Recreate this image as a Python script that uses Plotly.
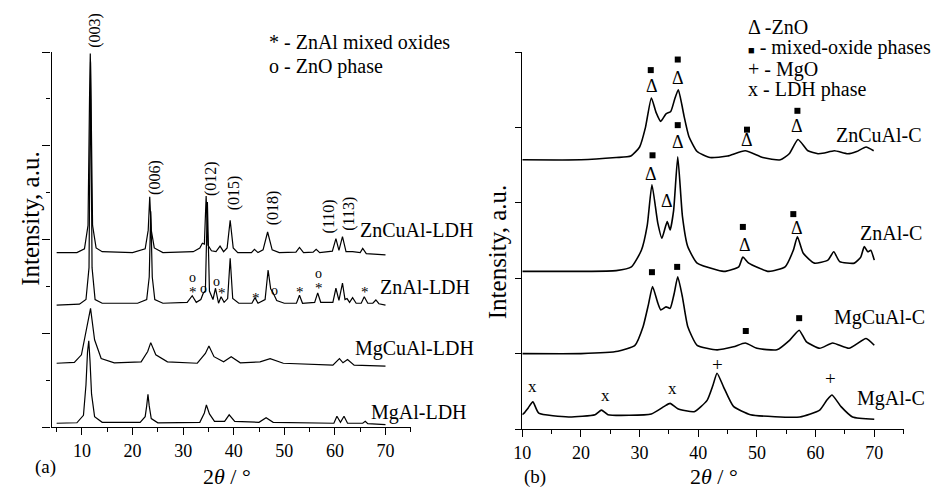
import plotly.graph_objects as go

W, H = 933, 490
FONT = "Liberation Serif"

# ---------------- Panel (a): LDH patterns (2theta, intensity offset units) ----------------
a_ZnCuAl_x = [5, 9, 10.5, 11.2, 11.5, 11.65, 11.8, 12.1, 12.8, 14, 20, 22.5, 23.1, 23.4, 23.7, 24.3, 26,
              32, 33.3, 33.8, 34.2, 34.55, 34.9, 35.6, 36.5, 37.3, 38.0, 38.7, 39.3, 39.9, 40.8, 43.5,
              44.1, 44.8, 45.8, 46.7, 47.6, 49, 52.3, 53.0, 53.8, 55.7, 56.3, 57, 59.5, 60.2, 60.8,
              61.5, 62.2, 63.5, 65.0, 65.5, 66.2, 70]
a_ZnCuAl_y = [3.72, 3.72, 3.80, 4.30, 7.00, 7.97, 7.00, 4.30, 3.82, 3.74, 3.72, 3.80, 4.20, 4.91, 4.20, 3.82, 3.72,
              3.74, 3.82, 3.92, 3.90, 4.93, 3.88, 3.76, 3.74, 3.86, 3.74, 3.82, 4.41, 3.82, 3.72, 3.72,
              3.79, 3.72, 3.78, 4.16, 3.78, 3.72, 3.73, 3.83, 3.72, 3.73, 3.79, 3.72, 3.75, 4.02, 3.77,
              4.06, 3.74, 3.74, 3.72, 3.81, 3.70, 3.67]

a_ZnAl_x = [5, 9.5, 10.8, 11.4, 11.7, 12.0, 12.6, 14, 21, 22.8, 23.3, 23.6, 23.9, 24.4, 26,
            30.8, 31.8, 32.6, 33.5, 34.0, 34.4, 34.8, 35.2, 35.9, 36.4, 37.0, 37.5, 38.1, 38.8, 39.3, 39.8,
            41, 43.6, 44.2, 44.8, 46.2, 46.8, 47.3, 47.8, 48.5, 50, 52.4, 53.0, 53.6, 56.0, 56.6, 57.2,
            59.6, 60.2, 60.8, 61.5, 62.0, 62.4, 62.9, 63.5, 64.2, 65.2, 65.8, 66.5, 67.5, 68.1, 68.7, 70]
a_ZnAl_y = [2.60, 2.62, 2.72, 3.40, 7.80, 3.40, 2.72, 2.64, 2.64, 2.72, 3.20, 4.60, 3.20, 2.72, 2.64,
            2.66, 2.80, 2.66, 2.72, 2.86, 2.90, 4.80, 2.90, 2.72, 2.96, 2.64, 2.78, 2.66, 2.74, 3.60, 2.74,
            2.64, 2.64, 2.76, 2.64, 2.72, 3.35, 2.95, 2.86, 2.70, 2.64, 2.64, 2.81, 2.64, 2.66, 2.86, 2.66,
            2.66, 2.96, 2.70, 3.07, 2.72, 2.74, 2.66, 2.76, 2.64, 2.64, 2.78, 2.64, 2.64, 2.71, 2.63, 2.60]

a_MgCuAl_x = [5, 8.5, 9.9, 10.9, 11.7, 12.5, 13.8, 16.4, 21.7, 23.0, 23.6, 24.6, 26.9, 32.8, 34.4, 35.1,
              36.1, 38.0, 39.5, 41.3, 45.2, 47.2, 49.8, 59.6, 60.9, 61.6, 62.5, 63.8, 70]
a_MgCuAl_y = [1.36, 1.38, 1.54, 2.07, 2.53, 1.86, 1.46, 1.37, 1.39, 1.61, 1.80, 1.54, 1.39, 1.36, 1.57, 1.73,
              1.50, 1.39, 1.50, 1.37, 1.39, 1.46, 1.36, 1.32, 1.46, 1.37, 1.44, 1.32, 1.30]

a_MgAl_x = [5, 9.0, 10.3, 10.8, 11.1, 11.35, 11.6, 11.9, 12.5, 14, 21.5, 22.5, 22.8, 23.05, 23.3, 23.7, 25,
            33.3, 34.2, 34.6, 35.2, 36.2, 38.2, 39.1, 40.2, 45.0, 46.4, 47.8, 59.8, 60.4, 61.1, 61.8, 62.5,
            65.5, 66.0, 66.5, 70]
a_MgAl_y = [0.08, 0.09, 0.25, 0.90, 1.60, 1.84, 1.40, 0.70, 0.22, 0.10, 0.10, 0.22, 0.45, 0.70, 0.45, 0.18, 0.09,
            0.10, 0.30, 0.47, 0.28, 0.12, 0.12, 0.26, 0.12, 0.10, 0.20, 0.10, 0.08, 0.23, 0.10, 0.23, 0.08,
            0.08, 0.12, 0.07, 0.05]

# ---------------- Panel (b): calcined samples ----------------
b_ZnCuAl_x = [10, 20, 26, 28.5, 30, 31, 32.0, 32.8, 33.6, 34.5, 35.3, 36.0, 36.6, 37.2, 37.6, 38.4, 39.8,
              42, 45, 48, 51, 54, 55.5, 57.0, 58.7, 60.4, 61.5, 63.2, 65.5, 67, 68.6, 69.9]
b_ZnCuAl_y = [3.57, 3.57, 3.60, 3.62, 3.74, 4.00, 4.39, 4.20, 4.08, 4.18, 4.21, 4.38, 4.50, 4.30, 4.14, 3.88, 3.68,
              3.60, 3.62, 3.69, 3.60, 3.57, 3.65, 3.84, 3.69, 3.65, 3.66, 3.69, 3.65, 3.68, 3.74, 3.69]

b_ZnAl_x = [10, 20, 26, 28.6, 30.3, 31.3, 32.1, 33.1, 33.8, 34.7, 35.2, 35.8, 36.5, 37.3, 38.2, 39.8, 43.2,
            44.6, 46.9, 47.6, 48.6, 52.0, 54.8, 56.2, 56.9, 57.9, 59.8, 62.1, 63.1, 64.1, 66.6, 67.7, 68.3,
            68.9, 69.4, 70.0]
b_ZnAl_y = [2.09, 2.09, 2.10, 2.15, 2.37, 2.70, 3.24, 2.73, 2.53, 2.75, 2.64, 2.90, 3.61, 2.82, 2.42, 2.20, 2.11,
            2.09, 2.15, 2.28, 2.20, 2.09, 2.15, 2.37, 2.55, 2.33, 2.20, 2.24, 2.35, 2.22, 2.20, 2.28, 2.42,
            2.35, 2.37, 2.24]

b_MgCuAl_x = [10, 20, 26.3, 29.2, 30.6, 31.5, 32.2, 33.1, 33.6, 34.5, 35.2, 35.9, 36.5, 37.3, 38.2, 39.8, 43.2,
              46.0, 48.0, 50.0, 53.4, 55.6, 57.2, 58.4, 60.7, 62.9, 65.7, 68.6, 70.0]
b_MgCuAl_y = [1.00, 1.00, 1.03, 1.11, 1.36, 1.65, 1.89, 1.67, 1.58, 1.62, 1.60, 1.80, 2.02, 1.75, 1.36, 1.11, 1.05,
              1.09, 1.14, 1.07, 1.05, 1.18, 1.31, 1.16, 1.07, 1.14, 1.07, 1.20, 1.11]

b_MgAl_x = [10, 10.3, 11.0, 11.8, 12.8, 17.9, 22.4, 23.5, 24.6, 32.0, 34.2, 35.2, 36.5, 39.3, 41.5, 42.5,
            43.2, 44.3, 46.0, 48.9, 57.3, 60.7, 61.9, 62.8, 64.3, 66.3, 70.0]
b_MgAl_y = [0.19, 0.21, 0.28, 0.36, 0.21, 0.16, 0.19, 0.25, 0.19, 0.20, 0.30, 0.34, 0.27, 0.23, 0.38, 0.58,
            0.74, 0.56, 0.30, 0.19, 0.16, 0.25, 0.38, 0.45, 0.30, 0.16, 0.13]

# ---------------- annotations data ----------------
hkl_text = ["(003)", "(006)", "(012)", "(015)", "(018)", "(110)", "(113)"]
hkl_x = [12.65, 24.3, 35.5, 40.0, 47.8, 58.9, 62.8]
hkl_y = [8.46, 5.32, 5.31, 5.00, 4.67, 4.50, 4.55]

a_circ_x = [31.9, 34.1, 36.5, 48.0, 56.8]
a_circ_y = [3.18, 2.96, 3.11, 2.92, 3.28]
a_star_x = [31.9, 37.7, 44.4, 53.2, 56.8, 65.9]
a_star_y = [2.94, 2.92, 2.81, 2.94, 3.03, 2.94]

b_tri_x = [32.1, 36.6, 48.3, 56.8, 32.0, 34.7, 36.5, 48.0, 56.9]
b_tri_y = [4.55, 4.65, 3.83, 4.02, 3.38, 3.03, 3.80, 2.44, 2.67]
b_sq_x = [31.9, 36.5, 48.3, 56.9, 32.2, 36.5, 47.6, 56.2, 32.1, 36.4, 48.1, 57.2]
b_sq_y = [4.76, 4.90, 3.97, 4.22, 3.63, 4.03, 2.68, 2.85, 2.08, 2.15, 1.30, 1.47]
b_x_x = [11.8, 24.2, 35.6]
b_x_y = [0.57, 0.44, 0.54]
b_plus_x = [43.2, 62.5]
b_plus_y = [0.85, 0.67]

a_names = ["ZnCuAl-LDH", "ZnAl-LDH", "MgCuAl-LDH", "MgAl-LDH"]
b_names = ["ZnCuAl-C", "ZnAl-C", "MgCuAl-C", "MgAl-C"]

A_YMAX = 8
B_YMAX = 5

# ---------------- figure ----------------
def pp(x, y):
    return x / W, 1 - y / H

fig = go.Figure()
for xs, ys in [(a_ZnCuAl_x, a_ZnCuAl_y), (a_ZnAl_x, a_ZnAl_y), (a_MgCuAl_x, a_MgCuAl_y), (a_MgAl_x, a_MgAl_y)]:
    fig.add_trace(go.Scatter(x=xs, y=ys, mode="lines", line=dict(color="black", width=1.2),
                             xaxis="x", yaxis="y", hoverinfo="skip"))
for xs, ys in [(b_ZnCuAl_x, b_ZnCuAl_y), (b_ZnAl_x, b_ZnAl_y), (b_MgCuAl_x, b_MgCuAl_y), (b_MgAl_x, b_MgAl_y)]:
    fig.add_trace(go.Scatter(x=xs, y=ys, mode="lines",
                             line=dict(color="black", width=1.6, shape="spline", smoothing=0.5),
                             xaxis="x2", yaxis="y2", hoverinfo="skip"))
fig.add_trace(go.Scatter(x=b_sq_x, y=b_sq_y, mode="markers",
                         marker=dict(symbol="square", size=6, color="black"),
                         xaxis="x2", yaxis="y2", hoverinfo="skip", cliponaxis=False))

ann = []
def txt(x, y, s, size, xref="paper", yref="paper", angle=0, xanchor="center", yanchor="middle"):
    ann.append(dict(x=x, y=y, xref=xref, yref=yref, text=s, showarrow=False, textangle=angle,
                    xanchor=xanchor, yanchor=yanchor, borderpad=0,
                    font=dict(family=FONT, size=size, color="black")))

for s, x, y in zip(hkl_text, hkl_x, hkl_y):
    txt(x, y / A_YMAX, s, 16, "x", "y domain", angle=-90)
for x, y in zip(a_circ_x, a_circ_y):
    txt(x, y, "o", 14, "x", "y")
for x, y in zip(a_star_x, a_star_y):
    txt(x, y - 0.06, "*", 15, "x", "y")
for x, y in zip(b_tri_x, b_tri_y):
    txt(x, y, "Δ", 18, "x2", "y2")
for x, y in zip(b_x_x, b_x_y):
    txt(x, y, "x", 17, "x2", "y2")
for x, y in zip(b_plus_x, b_plus_y):
    txt(x, y, "+", 19, "x2", "y2")

# sample names (pixel positions, right aligned)
for name, (x, y) in zip(a_names, [(470, 230), (466, 287), (471, 348), (463, 412)]):
    px, py = pp(x, y)
    txt(px, py, name, 20, xanchor="right")
for name, (x, y) in zip(b_names, [(923, 135), (923, 233), (926, 317), (926, 398)]):
    px, py = pp(x, y)
    txt(px, py, name, 20, xanchor="right")

# legends
for s, y in [("* - ZnAl mixed oxides", 42), ("o - ZnO phase", 67)]:
    px, py = pp(262, y)
    txt(px, py, s, 20, xanchor="left")
for s, y in [("Δ -ZnO", 27), ("<span style='font-size:11px'>■</span> - mixed-oxide phases", 48),
             ("+ - MgO", 69), ("x - LDH phase", 90)]:
    px, py = pp(745, y)
    txt(px, py, s, 20, xanchor="left")

# axis titles and panel letters
px, py = pp(21, 219); txt(px, py, "Intensity, a.u.", 25, angle=-90)
px, py = pp(494, 252); txt(px, py, "Intensity, a.u.", 25, angle=-90)
px, py = pp(220, 476); txt(px, py, "2<i>θ</i> / °", 22)
px, py = pp(712, 476); txt(px, py, "2<i>θ</i> / °", 22)
px, py = pp(37, 467); txt(px, py, "(a)", 19)
px, py = pp(531, 477); txt(px, py, "(b)", 19)

axis_common = dict(showline=True, linecolor="black", linewidth=1.3, showgrid=False, zeroline=False,
                   ticks="outside", tickcolor="black", tickwidth=1.2,
                   tickfont=dict(family=FONT, size=18, color="black"))

fig.update_layout(
    width=W, height=H, margin=dict(l=0, r=0, t=0, b=0),
    paper_bgcolor="white", plot_bgcolor="white", showlegend=False,
    font=dict(family=FONT, color="black"),
    xaxis=dict(domain=[43 / W, 405.7 / W], range=[4, 75], anchor="y", tick0=0, dtick=10, ticklen=7,
               minor=dict(dtick=5, tick0=0, ticklen=4, ticks="outside", tickcolor="black"), **axis_common),
    yaxis=dict(domain=[1 - 427 / H, 1 - 52 / H], range=[0, A_YMAX], anchor="x", tick0=0, dtick=2, ticklen=8,
               showticklabels=False,
               minor=dict(dtick=1, tick0=0, ticklen=4, ticks="outside", tickcolor="black"), **axis_common),
    xaxis2=dict(domain=[518.3 / W, 903.3 / W], range=[10, 75], anchor="y2", tick0=0, dtick=10, ticklen=7,
                minor=dict(dtick=5, tick0=0, ticklen=4, ticks="outside", tickcolor="black"), **axis_common),
    yaxis2=dict(domain=[1 - 429 / H, 1 - 52 / H], range=[0, B_YMAX], anchor="x2", tick0=0, dtick=1, ticklen=6,
                showticklabels=False, **axis_common),
    annotations=ann,
)

fig.write_html("out.html")
